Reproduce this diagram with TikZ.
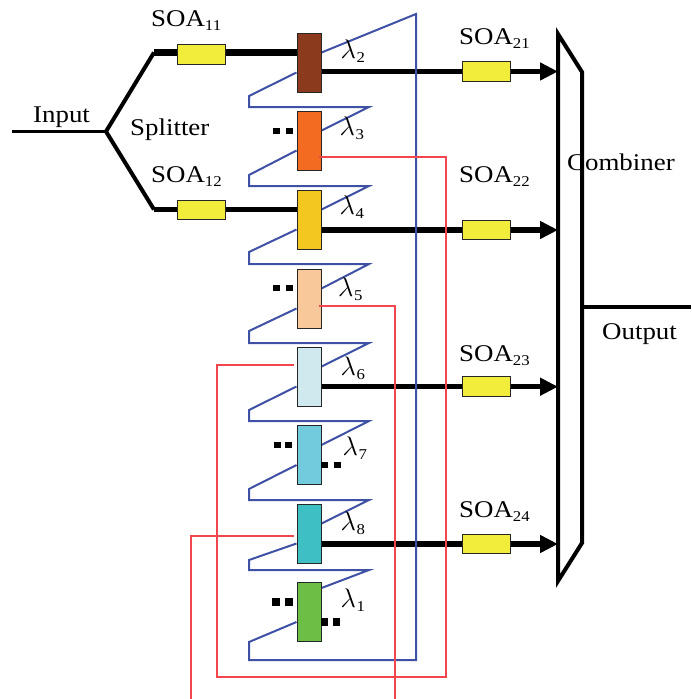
\documentclass[tikz,border=0pt]{standalone}
\usepackage{fontspec}
\setmainfont[FakeStretch=1.12]{Liberation Serif}
\usetikzlibrary{arrows.meta,backgrounds}
\definecolor{bluez}{HTML}{3F51A5}
\definecolor{redw}{HTML}{F2454D}
\definecolor{soay}{HTML}{F2EC3A}
\newcommand{\subtxt}[1]{\raisebox{-4pt}{\fontsize{15}{15}\selectfont #1}}
\newcommand{\lam}[1]{\scalebox{1.08}{$\lambda$}\hspace{0.5pt}\subtxt{#1}}
\tikzset{
  lbl/.style={anchor=base west,inner sep=0pt,font=\fontsize{24}{24}\selectfont},
  filterbox/.style={draw=black!85,line width=1pt,minimum width=24pt,minimum height=59pt,inner sep=0pt},
  soabox/.style={draw=black!85,fill=soay,line width=1pt,minimum width=47.5pt,minimum height=19.5pt,inner sep=0pt},
  dotmark/.style={fill=black,minimum width=7pt,minimum height=6pt,inner sep=0pt},
  dotbig/.style={fill=black,minimum size=7.5pt,inner sep=0pt},
  zig/.style={draw=bluez,line width=2pt,line join=miter},
  fibre/.style={draw=redw,line width=1.3pt},
  outarrow/.style={draw=black,line width=5.5pt,-{Triangle[length=18pt,width=17pt]}},
  lineblk/.style={draw=black,line join=miter}
}
\begin{document}
\begin{tikzpicture}[x=1pt,y=-1pt]
\useasboundingbox (0,0) rectangle (691,699);
% filters
\node[filterbox,fill={rgb,255:red,139;green,58;blue,30}] (f2) at (309,62.5) {};
\node[filterbox,fill={rgb,255:red,243;green,107;blue,33}] (f3) at (309,140.5) {};
\node[filterbox,fill={rgb,255:red,244;green,199;blue,32}] (f4) at (309,219.5) {};
\node[filterbox,fill={rgb,255:red,248;green,200;blue,154}] (f5) at (309,298.5) {};
\node[filterbox,fill={rgb,255:red,208;green,233;blue,238}] (f6) at (309,376.5) {};
\node[filterbox,fill={rgb,255:red,114;green,203;blue,220}] (f7) at (309,455) {};
\node[filterbox,fill={rgb,255:red,62;green,191;blue,196}] (f8) at (309,533.5) {};
\node[filterbox,fill={rgb,255:red,109;green,190;blue,69}] (f1) at (309,612) {};
% SOAs
\node[soabox] (s11) at (201.5,54.5) {};
\node[soabox] (s12) at (201.5,210) {};
\node[soabox] (s21) at (486.7,71.5) {};
\node[soabox] (s22) at (486.7,230) {};
\node[soabox] (s23) at (486.7,386.7) {};
\node[soabox] (s24) at (486.7,544) {};
% coordinates
\coordinate (in) at (12,131.5);
\coordinate (split) at (106,131.5);
\coordinate (up) at (154,52.5);
\coordinate (lo) at (154,209.5);
\coordinate (c1) at (558,34);
\coordinate (c2) at (582,72);
\coordinate (c3) at (582,543);
\coordinate (c4) at (558,581);
\coordinate (out) at (691,307);
\coordinate (outs) at (582,307);
\begin{pgfonlayer}{background}
  \draw[lineblk,line width=3.5pt] (in) -- (split);
  \draw[lineblk,line width=4pt] (up) -- (split) -- (lo);
  \draw[lineblk,line width=7pt] (up) -- (up -| s11.west);
  \draw[lineblk,line width=7pt] (up -| s11.east) -- (up -| f2.west);
  \draw[lineblk,line width=5.5pt] (lo) -- (lo -| s12.west);
  \draw[lineblk,line width=5.5pt] (lo -| s12.east) -- (lo -| f4.west);
  \draw[lineblk,line width=5.5pt] (f2.east |- s21.west) -- (s21.west);
  \draw[lineblk,line width=5.5pt] (f4.east |- s22.west) -- (s22.west);
  \draw[lineblk,line width=5.5pt] (f6.east |- s23.west) -- (s23.west);
  \draw[lineblk,line width=5.5pt] (f8.east |- s24.west) -- (s24.west);
  \draw[outarrow] (s21.east) -- (c1 |- s21.east);
  \draw[outarrow] (s22.east) -- (c1 |- s22.east);
  \draw[outarrow] (s23.east) -- (c1 |- s23.east);
  \draw[outarrow] (s24.east) -- (c1 |- s24.east);
  % zigzag
  \draw[zig] ([yshift=10pt]f2.east) -- (416,14) -- (416,660) -- (249,660) -- (249,642) -- ([yshift=-10pt]f1.west);
  \draw[zig] ([yshift=-10pt]f2.west) -- (249,96) -- (249,107) -- (369,107) -- ([yshift=10pt]f3.east);
  \draw[zig] ([yshift=-10pt]f3.west) -- (249,175) -- (249,186) -- (369,186) -- ([yshift=10pt]f4.east);
  \draw[zig] ([yshift=-10pt]f4.west) -- (249,252) -- (249,264) -- (369,264) -- ([yshift=10pt]f5.east);
  \draw[zig] ([yshift=-10pt]f5.west) -- (249,331) -- (249,343) -- (369,343) -- ([yshift=10pt]f6.east);
  \draw[zig] ([yshift=-10pt]f6.west) -- (249,410) -- (249,421) -- (369,421) -- ([yshift=10pt]f7.east);
  \draw[zig] ([yshift=-10pt]f7.west) -- (249,489) -- (249,500) -- (369,500) -- ([yshift=10pt]f8.east);
  \draw[zig] ([yshift=-10pt]f8.west) -- (249,560) -- (249,570) -- (369,570) -- ([yshift=24pt]f1.east);
\end{pgfonlayer}
% combiner and output
\draw[lineblk,line width=4pt] (c2) -- (c1) -- (c4) -- (c3) -- cycle;
\draw[lineblk,line width=4pt] (outs) -- (out);
% red fibres
\draw[fibre] ([xshift=-3pt,yshift=-16.5pt]f3.east) -- (446,157) -- (446,677) -- (217,677) -- (217,365) -- ([xshift=-3pt,yshift=11.5pt]f6.west);
\draw[fibre] ([xshift=-3pt,yshift=-7.5pt]f5.east) -- (395,306) -- (395,699);
\draw[fibre] ([xshift=-3pt,yshift=-2.5pt]f8.west) -- (191,536) -- (191,699);
% dots
\node[dotmark] (d1) at (276,131) {};
\node[dotmark] (d2) at (289,131) {};
\node[dotmark] (d3) at (276,288) {};
\node[dotmark] (d4) at (289,288) {};
\node[dotmark] (d5) at (277,445) {};
\node[dotmark] (d6) at (288.5,445) {};
\node[dotmark] (d7) at (324.5,465) {};
\node[dotmark] (d8) at (337,465) {};
\node[dotbig] (d9) at (276,602) {};
\node[dotbig] (d10) at (289,602) {};
\node[dotbig] (d11) at (324.5,622) {};
\node[dotbig] (d12) at (336.5,622) {};
% labels
\node[lbl] (tinput) at (33,122) {Input};
\node[lbl] (tsplit) at (130,135) {Splitter};
\node[lbl] (tcomb) at (567,170) {Combiner};
\node[lbl] (toutput) at (602,339) {Output};
\node[lbl] (t11) at (151,26) {SOA\subtxt{11}};
\node[lbl] (t12) at (151,182) {SOA\subtxt{12}};
\node[lbl] (t21) at (459,44) {SOA\subtxt{21}};
\node[lbl] (t22) at (459,182) {SOA\subtxt{22}};
\node[lbl] (t23) at (459,361) {SOA\subtxt{23}};
\node[lbl] (t24) at (459,517) {SOA\subtxt{24}};
\node[lbl] (l2) at (340.5,58) {\lam{2}};
\node[lbl] (l3) at (339.5,135) {\lam{3}};
\node[lbl] (l4) at (339.5,214) {\lam{4}};
\node[lbl] (l5) at (338,296) {\lam{5}};
\node[lbl] (l6) at (340.5,375) {\lam{6}};
\node[lbl] (l7) at (342.5,455) {\lam{7}};
\node[lbl] (l8) at (340.5,530) {\lam{8}};
\node[lbl] (l1) at (340.5,607) {\lam{1}};
\end{tikzpicture}
\end{document}
